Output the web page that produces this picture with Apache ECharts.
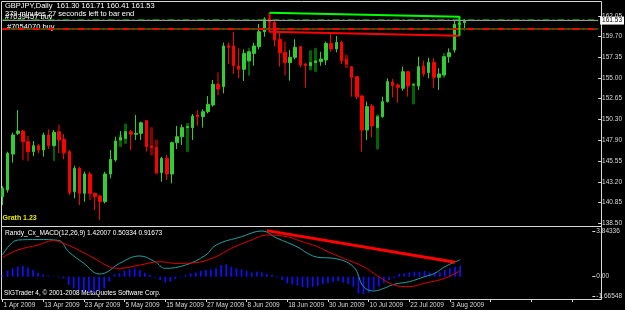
<!DOCTYPE html>
<html>
<head>
<meta charset="utf-8">
<script src="https://cdn.jsdelivr.net/npm/echarts@6.0.0/dist/echarts.min.js"></script>
<style>
  html, body { margin: 0; padding: 0; background: #000; }
  #chart { width: 625px; height: 310px; }
</style>
</head>
<body>
<div id="chart"></div>
<script>
// GBPJPY daily bars, 1 Apr 2009 .. 5 Aug 2009 (weekdays)
const open = [141.51, 142.27, 146.36, 148.71, 148.98, 147.76, 146.63, 147.31, 146.82, 148.52,
  147.31, 148.90, 148.03, 146.63, 142.08, 144.73, 141.89, 144.09, 141.89, 141.59,
  140.94, 144.09, 145.68, 147.95, 148.14, 148.90, 148.60, 148.71, 150.15, 147.27,
  147.08, 144.24, 145.87, 144.09, 147.65, 148.33, 149.36, 149.36, 150.80, 150.60,
  151.17, 151.93, 154.28, 154.02, 158.68, 158.64, 156.37, 155.99, 156.94, 157.80,
  158.56, 160.27, 161.71, 161.33, 159.40, 157.92, 156.75, 157.35, 158.56, 156.59,
  156.40, 156.75, 156.86, 157.05, 158.94, 158.30, 159.05, 157.12, 156.29, 155.15,
  152.95, 149.09, 151.82, 149.36, 150.60, 152.31, 154.55, 154.20, 153.83, 155.72,
  154.20, 154.09, 156.37, 155.61, 156.78, 155.08, 155.34, 157.42, 158.18, 161.10,
  161.30]
const high = [142.70, 146.63, 148.79, 151.36, 149.09, 147.76, 147.84, 147.50, 148.79, 149.17,
  149.09, 148.90, 148.63, 146.82, 145.04, 144.92, 144.35, 144.35, 141.97, 141.70,
  144.35, 146.82, 148.33, 148.98, 148.90, 149.09, 150.80, 150.04, 150.23, 147.27,
  147.08, 146.06, 146.25, 147.76, 149.55, 149.73, 149.47, 150.91, 151.36, 151.44,
  152.95, 154.78, 154.28, 159.02, 159.02, 160.27, 158.37, 158.26, 157.99, 159.02,
  161.14, 161.90, 162.28, 161.60, 160.15, 157.92, 158.18, 159.40, 158.64, 156.75,
  156.75, 156.94, 157.99, 159.13, 160.08, 159.77, 159.24, 157.12, 156.29, 155.23,
  153.07, 152.31, 152.05, 150.60, 152.88, 154.96, 154.89, 154.39, 156.29, 155.80,
  154.24, 157.42, 156.97, 157.31, 157.24, 156.10, 157.42, 158.37, 161.60, 161.50,
  161.71]
const low = [140.56, 141.97, 145.38, 148.52, 147.76, 146.63, 146.13, 146.44, 146.06, 146.93,
  147.31, 146.44, 145.76, 141.70, 141.32, 140.56, 140.94, 141.89, 139.99, 138.86,
  140.75, 143.60, 145.49, 147.95, 148.14, 146.82, 147.95, 147.95, 146.63, 147.08,
  144.24, 143.22, 143.41, 143.03, 146.93, 147.39, 149.36, 147.95, 149.55, 149.36,
  150.98, 151.74, 153.75, 153.26, 156.59, 155.46, 154.96, 154.66, 156.94, 156.40,
  158.26, 159.70, 160.50, 158.56, 156.29, 156.75, 154.70, 157.12, 156.21, 153.90,
  156.40, 156.75, 156.40, 156.48, 158.00, 157.92, 156.59, 156.59, 152.88, 152.58,
  146.63, 147.95, 148.26, 149.36, 150.49, 152.20, 152.80, 152.20, 153.56, 152.88,
  154.15, 153.64, 155.15, 154.96, 153.90, 153.64, 155.34, 156.74, 157.88, 160.90,
  160.41]
const close = [142.46, 146.44, 148.52, 148.98, 147.76, 146.63, 147.31, 146.82, 148.52, 147.31,
  148.83, 147.95, 146.51, 141.97, 144.73, 141.89, 144.09, 141.89, 141.51, 140.94,
  144.09, 145.76, 147.84, 148.22, 148.90, 148.60, 148.71, 149.92, 147.20, 147.08,
  144.24, 145.87, 144.09, 147.65, 148.33, 149.36, 149.47, 150.68, 150.60, 151.17,
  152.01, 154.28, 153.75, 158.64, 158.49, 156.40, 155.99, 157.80, 157.99, 158.64,
  160.27, 161.71, 161.40, 159.32, 157.88, 156.75, 157.35, 158.49, 156.48, 156.40,
  156.75, 156.94, 157.16, 158.94, 158.30, 159.05, 156.97, 156.59, 155.08, 152.88,
  149.09, 151.74, 149.55, 150.60, 152.31, 154.59, 154.13, 153.94, 155.72, 154.09,
  154.24, 156.29, 155.46, 156.78, 155.08, 155.46, 157.42, 157.88, 161.10, 161.20,
  161.53]

// dark (shadow) candles drawn behind some bars: bar index, low, high, direction
const shadowIdx  = [4, 5, 10, 11, 17, 23, 24, 29, 30, 36, 42, 48, 55, 60, 61, 67, 73, 80, 86]
const shadowLow  = [145.68, 145.60, 145.60, 148.90, 141.13, 147.20, 147.57, 146.25, 144.09, 146.63,
  153.07, 155.31, 155.34, 155.91, 155.72, 156.18, 146.93, 152.05, 155.04]
const shadowHigh = [147.76, 148.40, 147.31, 149.66, 141.89, 148.52, 149.77, 149.36, 147.95, 149.85,
  155.61, 158.37, 159.13, 158.11, 158.37, 157.61, 150.80, 154.39, 157.80]
const shadowUp   = [0, 0, 1, 0, 0, 1, 1, 0, 0, 1, 0, 1, 0, 1, 1, 0, 1, 1, 1]

// drawn objects on the price panel
const channelTop = [[52, 162.43], [89, 161.96]]
const channelBottom = [[52, 160.25], [89, 159.80]]
const orderLine1 = 161.62
const orderLine2 = 160.57
const bid = 161.53

// MACD(12,26,9): main (teal) and signal (red) read at bar indices, histogram per bar
const macdMain = [[0, 1.82], [3, 3.08], [7, 3.12], [11, 3.05], [13, 2.1], [16, 1.12], [19, 0.23],
  [20, 0.28], [23, 1.12], [27, 1.74], [30, 1.26], [32, 0.7], [36, 0.98], [40, 1.82], [42, 2.66],
  [47, 3.36], [51, 3.84], [54, 3.23], [58, 2.5], [60, 1.96], [62, 1.63], [65, 1.55], [69, 0.84],
  [71, -0.84], [73, -1.2], [75, -0.98], [77, -0.64], [80, -0.42], [83, 0], [85, 0.28], [87, 0.84],
  [90, 1.42]]
const macdSignal = [[0, 1.63], [3, 2.24], [7, 2.66], [10, 3.03], [12, 2.8], [15, 2.24], [18, 1.55],
  [21, 0.84], [23, 0.7], [27, 0.98], [31, 1.26], [34, 1.12], [38, 1.18], [42, 1.68], [45, 2.38],
  [49, 3.08], [52, 3.5], [56, 3.36], [58, 3.08], [60, 2.8], [62, 2.52], [64, 2.1], [67, 1.55],
  [71, 0.84], [74, 0], [77, -0.7], [80, -0.84], [83, -0.55], [87, -0.13], [90, 0.5]]
const macdHist = [0.13, 0.5, 0.7, 0.84, 0.92, 0.78, 0.56, 0.34, 0.2, 0.08,
  0.02, -0.06, -0.14, -0.7, -0.98, -1.12, -1.26, -1.32, -1.34, -1.18,
  -0.98, -0.4, 0.2, 0.28, 0.5, 0.62, 0.7, 0.56, 0.34, 0.14,
  -0.06, -0.28, -0.48, -0.42, -0.2, -0.06, 0.14, 0.28, 0.36, 0.5,
  0.56, 0.62, 0.7, 0.98, 1.04, 0.84, 0.7, 0.62, 0.5, 0.36,
  0.42, 0.36, 0.22, 0.14, -0.06, -0.28, -0.56, -0.64, -0.75, -0.88,
  -0.92, -0.84, -0.78, -0.62, -0.56, -0.42, -0.36, -0.5, -0.62, -0.84,
  -1.4, -1.46, -1.34, -1.12, -0.84, -0.56, -0.28, -0.14, 0.22, 0.28,
  0.36, 0.42, 0.42, 0.48, 0.36, 0.34, 0.36, 0.56, 0.7, 0.84,
  0.92]
const macdTrend = [[52, 3.87], [89, 1.22]]

// axis labels
const dateLabels = ['1 Apr 2009', '13 Apr 2009', '23 Apr 2009', '5 May 2009', '15 May 2009',
  '27 May 2009', '8 Jun 2009', '18 Jun 2009', '30 Jun 2009', '10 Jul 2009', '22 Jul 2009', '3 Aug 2009']
const priceTicks = [162.05, 159.70, 157.35, 155.00, 152.65, 150.30, 147.90, 145.55, 143.20, 140.85, 138.50]
const macdTicks = [3.84336, 0, -1.66548]

const SLOTS = 117 // bars plus empty space on the right
const cats = []
for (let i = 0; i < SLOTS; i++) cats.push(String(i))

const candles = open.map((o, i) => [o, close[i], low[i], high[i]])
const shadows = shadowIdx.map((k, j) => shadowUp[j]
  ? [k, shadowLow[j], shadowHigh[j], shadowLow[j], shadowHigh[j]]
  : [k, shadowHigh[j], shadowLow[j], shadowLow[j], shadowHigh[j]])

const FONT = 'Liberation Sans, Arial, sans-serif'
const fg = '#d8d8d8'
const chart = echarts.init(document.getElementById('chart'))

const hline = (v, color, width, type, offset) => ({
  type: 'line', data: [[0, v], [SLOTS - 1, v]], symbol: 'none', silent: true,
  lineStyle: { color: color, width: width, type: type, dashOffset: offset || 0 }
})
const txt = (x, y, text, fill, size, weight) => ({
  type: 'text', x: x, y: y, silent: true,
  style: { text: text, fill: fill, font: (weight || 'normal') + ' ' + size + 'px ' + FONT, textVerticalAlign: 'top' }
})
const seg = (pts) => ({ type: 'polyline', silent: true, shape: { points: pts }, style: { stroke: fg, lineWidth: 1 } })

chart.setOption({
  animation: false,
  backgroundColor: '#000',
  grid: [
    { left: 2.5, top: 2, width: 598, height: 224 },
    { left: 2.5, top: 228, width: 598, height: 71 }
  ],
  xAxis: [
    { type: 'category', gridIndex: 0, data: cats, boundaryGap: false,
      axisLine: { show: false, onZero: false }, axisTick: { show: false }, axisLabel: { show: false }, splitLine: { show: false } },
    { type: 'category', gridIndex: 1, data: cats, boundaryGap: false,
      axisLine: { show: false, onZero: false },
      axisTick: { show: true, interval: 7, length: 3, lineStyle: { color: fg } },
      axisLabel: { show: true, interval: 7, align: 'left', margin: 3, color: fg, fontSize: 6.5, fontFamily: FONT,
        padding: [0, 0, 0, 1], formatter: (v) => dateLabels[Number(v) / 8] || '' },
      splitLine: { show: false } }
  ],
  yAxis: [
    { type: 'value', gridIndex: 0, position: 'right', min: 138.18, max: 163.64, scale: true,
      axisLine: { show: false }, splitLine: { show: false },
      axisTick: { show: true, length: 3, customValues: priceTicks, lineStyle: { color: fg } },
      axisLabel: { color: fg, fontSize: 6.5, fontFamily: FONT, margin: 4, customValues: priceTicks,
        formatter: (v) => v.toFixed(2) } },
    { type: 'value', gridIndex: 1, position: 'right', min: -1.874, max: 4.09,
      axisLine: { show: false }, splitLine: { show: false },
      axisTick: { show: true, length: 3, customValues: macdTicks, lineStyle: { color: fg } },
      axisLabel: { color: fg, fontSize: 6.5, fontFamily: FONT, margin: 4, customValues: macdTicks,
        formatter: (v) => v === 0 ? '0.00' : String(v) } }
  ],
  series: [
    hline(orderLine2, '#006400', 2, 'solid'),
    hline(orderLine2, '#ff0000', 2, [7, 3, 2, 3]),
    hline(orderLine1, '#00b000', 1, [7, 3, 2, 3]),
    {
      type: 'candlestick', name: 'shadow', data: shadows, encode: { x: 0, y: [1, 2, 3, 4] },
      barWidth: 2, silent: true,
      itemStyle: { color: '#006400', color0: '#8b0000', borderColor: '#006400', borderColor0: '#8b0000', borderWidth: 1 }
    },
    {
      type: 'candlestick', name: 'GBPJPY', data: candles, barWidth: 3, clip: false, silent: true,
      itemStyle: { color: '#32cd32', color0: '#ff0000', borderColor: '#32cd32', borderColor0: '#ff0000', borderWidth: 1 },
      markLine: {
        symbol: 'none', silent: true, animation: false,
        data: [{ yAxis: bid }],
        lineStyle: { color: '#9a9a9a', type: 'solid', width: 1 },
        label: { position: 'end', distance: 2, formatter: bid.toFixed(2), color: '#000', backgroundColor: '#fff',
          padding: [1, 2, 0, 2], fontSize: 6.5, fontFamily: FONT }
      }
    },
    { type: 'line', data: [channelTop[0], channelBottom[0], channelBottom[1]], symbol: 'none', silent: true,
      lineStyle: { color: '#ff0000', width: 2 } },
    { type: 'line', data: [channelTop[0], channelTop[1], channelBottom[1]], symbol: 'none', silent: true,
      lineStyle: { color: '#00ff00', width: 2 } },
    { type: 'bar', xAxisIndex: 1, yAxisIndex: 1, data: macdHist, barWidth: 1.7, silent: true,
      itemStyle: { color: '#1010ff' } },
    { type: 'line', xAxisIndex: 1, yAxisIndex: 1, data: macdMain, symbol: 'none', smooth: 0.4, silent: true,
      lineStyle: { color: '#20a0a0', width: 1 } },
    { type: 'line', xAxisIndex: 1, yAxisIndex: 1, data: macdSignal, symbol: 'none', smooth: 0.4, silent: true,
      lineStyle: { color: '#e00000', width: 1 } },
    { type: 'line', xAxisIndex: 1, yAxisIndex: 1, data: macdTrend, symbol: 'none', silent: true,
      lineStyle: { color: '#ff0000', width: 3 } }
  ],
  graphic: [
    seg([[1.5, 1.5], [601.5, 1.5], [601.5, 299.5], [1.5, 299.5], [1.5, 1.5]]),
    seg([[1.5, 226.5], [601.5, 226.5]]),
    txt(5, 2, 'GBPJPY,Daily  161.30 161.71 160.41 161.53', '#fff', 7.5),
    txt(5, 9.5, '379 minutes 27 seconds left to bar end', '#fff', 7.5),
    txt(5, 12.5, '#7039457 buy', '#fff', 7.5),
    txt(7, 22.5, '#7054070 buy', '#fff', 7.5),
    txt(2.5, 214.5, 'Grath 1.23', '#e8e800', 7, 'bold'),
    txt(5, 230, 'Randy_Cx_MACD(12,26,9) 1.42007 0.50334 0.91673', '#fff', 6.6),
    txt(4, 290.5, 'SIGTrader 4, \u00a9 2001-2008 MetaQuotes Software Corp.', '#fff', 6.4)
  ]
})
</script>
</body>
</html>
